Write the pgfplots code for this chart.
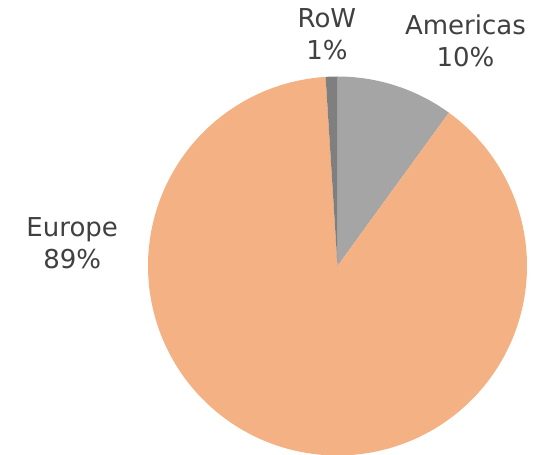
\documentclass[border=0pt]{standalone}
\usepackage{pgfplots}
\pgfplotsset{compat=1.18}
\usepackage{fontspec}
\setmainfont{DejaVu Sans}
\definecolor{amer}{HTML}{A5A5A5}
\definecolor{euro}{HTML}{F4B183}
\definecolor{row}{HTML}{7F7F7F}
\definecolor{txt}{HTML}{404040}

% shares in percent, clockwise from 12 o'clock
\def\pAmer{10}
\def\pEuro{89}
\def\pRoW{1}

\begin{document}
\begin{tikzpicture}
\useasboundingbox (0,0) rectangle (534bp,455bp);
\pgfmathsetmacro{\aA}{90}
\pgfmathsetmacro{\aB}{\aA-3.6*\pAmer}
\pgfmathsetmacro{\aC}{\aB-3.6*\pEuro}
\pgfmathsetmacro{\aD}{\aC-3.6*\pRoW}
\begin{axis}[
  at={(337.5bp,189bp)}, anchor=center,
  width=379bp, height=379bp, scale only axis,
  xmin=-1, xmax=1, ymin=-1, ymax=1,
  hide axis, clip=false,
  every axis plot/.append style={draw=none, samples=120, smooth=false}]
\addplot[fill=amer, domain=\aB:\aA] ({cos(x)},{sin(x)}) -- (axis cs:0,0) -- cycle;
\addplot[fill=euro, domain=\aC:\aB] ({cos(x)},{sin(x)}) -- (axis cs:0,0) -- cycle;
\addplot[fill=row, domain=\aD:\aC] ({cos(x)},{sin(x)}) -- (axis cs:0,0) -- cycle;
\begin{scope}[every node/.style={text=txt, align=center,
    font=\fontsize{26bp}{32bp}\selectfont}]
\node at (axis cs:0.675,1.19) {Americas\\10\%};
\node at (axis cs:-0.056,1.222) {RoW\\1\%};
\node at (axis cs:-1.40,0.122) {Europe\\89\%};
\end{scope}
\end{axis}
\end{tikzpicture}
\end{document}
